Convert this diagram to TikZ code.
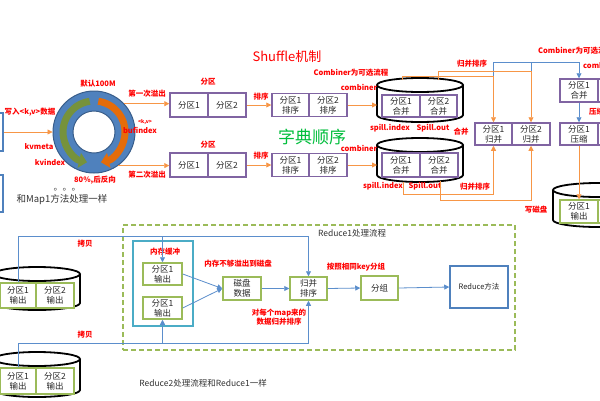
\documentclass[tikz,border=0pt]{standalone}
\usepackage{fontspec}
\setmainfont{Noto Sans CJK SC}
\usetikzlibrary{arrows.meta}
\definecolor{oblue}{RGB}{79,129,189}
\definecolor{ringdark}{RGB}{56,93,138}
\definecolor{opurple}{RGB}{128,100,162}
\definecolor{ogreen}{RGB}{155,187,89}
\definecolor{ocyan}{RGB}{75,172,198}
\definecolor{oorange}{RGB}{247,150,70}
\definecolor{arcgreen}{RGB}{118,146,60}
\definecolor{arcorange}{RGB}{228,108,10}
\definecolor{lblred}{RGB}{255,0,0}
\definecolor{dictgreen}{RGB}{0,190,60}
\definecolor{linkblue}{RGB}{91,142,204}
\newcommand\drawcyl[5]{%
  \fill[white] (#1-#4,#2) -- (#1-#4,#3) arc[start angle=180,end angle=0,x radius=#4,y radius=#5] -- (#1+#4,#2) -- cycle;
  \draw[cylline] (#1-#4,#2) -- (#1-#4,#3) arc[start angle=180,end angle=0,x radius=#4,y radius=#5] -- (#1+#4,#2);
  \filldraw[cylline,fill=white] (#1,#2) ellipse[x radius=#4,y radius=#5];}
\begin{document}
\begin{tikzpicture}[x=1pt,y=-1pt,
  cellbase/.style={fill=white, inner sep=0pt, align=center, font=\fontsize{8.5}{10}\selectfont, text=black!85},
  pcell/.style={cellbase, draw=opurple, line width=1.5pt},
  gcell/.style={cellbase, draw=ogreen, line width=1.5pt},
  lbl/.style={text=lblred, font=\bfseries\fontsize{7.5}{8.5}\selectfont, inner sep=0pt, align=center},
  note/.style={text=black!80, inner sep=0pt, font=\fontsize{8.5}{10}\selectfont},
  oarrow/.style={draw=oorange, line width=0.8pt, -{Triangle[width=5pt,length=5pt]}},
  oline/.style={draw=oorange, line width=0.8pt},
  barrow/.style={draw=linkblue, line width=0.8pt, -{Triangle[width=5pt,length=5pt]}},
  bline/.style={draw=linkblue, line width=0.8pt},
  cylline/.style={draw=black, line width=1.8pt},
]
\useasboundingbox (0,0) rectangle (600,400);
\clip (0,0) rectangle (600,400);
\fill[white] (0,0) rectangle (600,400);

% ---------- title ----------
\node[text=lblred, font=\fontsize{13}{15}\selectfont, inner sep=0] (title) at (287,57) {Shuffle机制};

% ---------- left inputs & ring ----------
\node[draw=oblue, line width=1.5pt, minimum width=20pt, minimum height=38pt] (inA) at (-7,132) {};
\node[draw=oblue, line width=1.5pt, minimum width=20pt, minimum height=37pt] (inB) at (-7,193.5) {};
\node[circle, fill=oblue, draw=ringdark, line width=1pt, minimum size=82pt, inner sep=0] (ring) at (94,132) {};
\node[circle, fill=white, draw=ringdark, line width=1pt, minimum size=42pt, inner sep=0] (hole) at (94,132) {};
\draw[arcgreen, line width=7pt, -{Triangle[width=15pt,length=8pt]}] ([shift={(262:31)}]94,132) arc[start angle=262,end angle=103,radius=31];
\draw[arcorange, line width=7pt, -{Triangle[width=15pt,length=8pt]}] ([shift={(-82:31)}]94,132) arc[start angle=-82,end angle=77,radius=31];

\draw[oarrow] (inA.east) -- (ring.west);
\node[lbl] at (30,112) {写入<k,v>数据};
\node[lbl] at (98,84) {默认100M};
\node[lbl, font=\bfseries\fontsize{5}{6}\selectfont] at (145,122) {<k,v>};
\node[lbl] at (140,130) {bufindex};
\node[lbl] at (39,147) {kvmeta};
\node[lbl] at (50,162) {kvindex};
\node[lbl] at (95,180) {80\%,后反向};
\node[note, font=\fontsize{9}{10}\selectfont] at (67,190) {。。。};
\node[note, font=\fontsize{9.5}{11}\selectfont] at (62,200) {和Map1方法处理一样};

% ---------- partitions ----------
\node[pcell, minimum width=38pt, minimum height=24pt] (p1a) at (189,105) {分区1};
\node[pcell, minimum width=38pt, minimum height=24pt] (p1b) at (227,105) {分区2};
\node[pcell, minimum width=38pt, minimum height=24pt] (p2a) at (189,165) {分区1};
\node[pcell, minimum width=38pt, minimum height=24pt] (p2b) at (227,165) {分区2};
\draw[oarrow] (ring.43) -- (ring.43 -| p1a.west);
\draw[oarrow] (ring.-54) -- (ring.-54 -| p2a.west);
\node[lbl] at (147,94) {第一次溢出};
\node[lbl] at (147,175) {第二次溢出};
\node[lbl] at (208,82) {分区};
\node[lbl] at (208,145) {分区};

% ---------- sorting ----------
\node[pcell, minimum width=37pt, minimum height=23pt] (s1a) at (290.5,105) {分区1\\排序};
\node[pcell, minimum width=38pt, minimum height=23pt] (s1b) at (328,105) {分区2\\排序};
\node[pcell, minimum width=37pt, minimum height=23pt] (s2a) at (290.5,165) {分区1\\排序};
\node[pcell, minimum width=38pt, minimum height=23pt] (s2b) at (328,165) {分区2\\排序};
\draw[oarrow] (p1b.east) -- (s1a.west);
\draw[oarrow] (p2b.east) -- (s2a.west);
\node[lbl] at (261,97) {排序};
\node[lbl] at (261,156) {排序};
\node[text=dictgreen, font=\fontsize{17}{19}\selectfont, inner sep=0] at (312,137) {字典顺序};

% ---------- spill cylinders ----------
\drawcyl{420}{85}{115}{43}{7}
\drawcyl{420}{145}{175}{43}{7}
\node[pcell, minimum width=38pt, minimum height=22pt] (c1a) at (401,106) {分区1\\合并};
\node[pcell, minimum width=37pt, minimum height=22pt] (c1b) at (438.5,106) {分区2\\合并};
\node[pcell, minimum width=38pt, minimum height=24pt] (c2a) at (401,165) {分区1\\合并};
\node[pcell, minimum width=38pt, minimum height=24pt] (c2b) at (439,165) {分区2\\合并};
\coordinate (cy1w) at (377,105);
\coordinate (cy2w) at (377,165);
\draw[oarrow] (s1b.east) -- (cy1w);
\draw[oarrow] (s2b.east) -- (cy2w);
\node[lbl] at (359,87) {combiner};
\node[lbl] at (359,148) {combiner};
\node[lbl] at (351,73) {Combiner为可选流程};
\node[lbl] at (390,128) {spill.index};
\node[lbl] at (433,128) {Spill.out};
\node[lbl] at (383,186) {spill.index};
\node[lbl] at (425,186) {Spill.out};
\node[lbl] at (461,132) {合并};

% ---------- merge ----------
\node[pcell, minimum width=37pt, minimum height=22pt] (m1) at (493.5,134) {分区1\\归并};
\node[pcell, minimum width=38pt, minimum height=22pt] (m2) at (531,134) {分区2\\归并};
\coordinate (bt) at (493.5,62);
\draw[bline] (m2.north |- bt) -- (531,100);
\draw[bline] (bt) -- (493.5,100);
\coordinate (t1) at (402,80);
\coordinate (t2) at (438,80);
\draw[oarrow] (t2) |- (531,71) -- (m2.north);
\draw[oarrow] (t1) |- (493.5,76) -- (m1.north);
\coordinate (u1) at (403,182);
\coordinate (u2) at (440,181);
\draw[oarrow] (u1) |- (493.5,194) -- (m1.south);
\draw[oarrow] (u2) |- (531,200) -- (m2.south);
\node[lbl] at (472,64) {归并排序};
\node[lbl] at (475,187) {归并排序};

% ---------- right column ----------
\node[pcell, minimum width=38pt, minimum height=23pt] (r1) at (579,90.5) {分区1\\合并};
\node[pcell, minimum width=38pt, minimum height=23pt] (r2) at (617,90.5) {分区2\\合并};
\node[pcell, minimum width=38pt, minimum height=22pt] (z1) at (579,134) {分区1\\压缩};
\node[pcell, minimum width=38pt, minimum height=22pt] (z2) at (617,134) {分区2\\压缩};
\draw[barrow] (bt) -| (r1.north);
\draw[barrow] (r1.south) -- (z1.north);
\drawcyl{598}{190}{220}{45}{7}
\node[gcell, minimum width=38pt, minimum height=23pt] (o1) at (579,211.5) {分区1\\输出};
\node[gcell, minimum width=38pt, minimum height=23pt] (o2) at (617,211.5) {分区2\\输出};
\draw[oarrow] (z1.south) -- (o1.north);
\node[lbl, anchor=west] at (538,51) {Combiner为可选流程};
\node[lbl, anchor=west] at (583,65) {combiner};
\node[lbl, anchor=west] at (589,112) {压缩};
\node[lbl] at (536,210) {写磁盘};

% ---------- reduce area ----------
\node[draw=ogreen, line width=1.8pt, dash pattern=on 5pt off 3pt, minimum width=392pt, minimum height=125pt, inner sep=0] (area) at (319,287.5) {};
\node[note] at (352,233) {Reduce1处理流程};
\node[draw=ocyan, line width=1.8pt, minimum width=60pt, minimum height=85pt, inner sep=0] (mem) at (163,283.5) {};
\node[lbl] at (165,252) {内存缓冲};
\node[gcell, minimum width=39pt, minimum height=22pt] (k1) at (162.5,274) {分区1\\输出};
\node[gcell, minimum width=39pt, minimum height=22pt] (k2) at (162.5,308) {分区1\\输出};

\drawcyl{37}{274}{303}{43}{7}
\drawcyl{37}{359}{390}{43}{7}
\node[gcell, minimum width=36pt, minimum height=25pt] (a1) at (18,295.5) {分区1\\输出};
\node[gcell, minimum width=38pt, minimum height=25pt] (a2) at (55,295.5) {分区2\\输出};
\node[gcell, minimum width=36pt, minimum height=26pt] (b1) at (18,381) {分区1\\输出};
\node[gcell, minimum width=38pt, minimum height=26pt] (b2) at (55,381) {分区2\\输出};

\node[gcell, minimum width=38pt, minimum height=23pt] (d) at (242,288.5) {磁盘\\数据};
\node[gcell, minimum width=37pt, minimum height=23pt] (ms) at (308.5,288.5) {归并\\排序};
\node[gcell, minimum width=37pt, minimum height=24pt] (g) at (379.5,288) {分组};
\node[cellbase, draw=oblue, line width=1.5pt, minimum width=58pt, minimum height=42pt, font=\fontsize{7.5}{9}\selectfont] (rd) at (479,287) {Reduce方法};

\coordinate (topbus) at (308.5,236);
\coordinate (botbus) at (308.5,343);
\draw[barrow] (a1.north) |- (topbus) -- (ms.north);
\draw[barrow] (k1.north |- topbus) -- (k1.north);
\draw[barrow] (b1.north) |- (botbus) -- (ms.south);
\draw[barrow] (k2.south |- botbus) -- (k2.south);
\draw[barrow] (k1.east) -- (d.west);
\draw[barrow] (k2.east) -- (d.west);
\draw[barrow] (d.east) -- (ms.west);
\draw[barrow] (ms.east) -- (g.west);
\draw[barrow] (g.east) -- (rd.west);

\node[lbl] at (85,244) {拷贝};
\node[lbl] at (85,335) {拷贝};
\node[lbl] at (238,264) {内存不够溢出到磁盘};
\node[lbl] at (356,267) {按照相同key分组};
\node[lbl] at (279,317) {对每个map来的\\数据归并排序};
\node[note] at (203,383) {Reduce2处理流程和Reduce1一样};
\end{tikzpicture}
\end{document}
